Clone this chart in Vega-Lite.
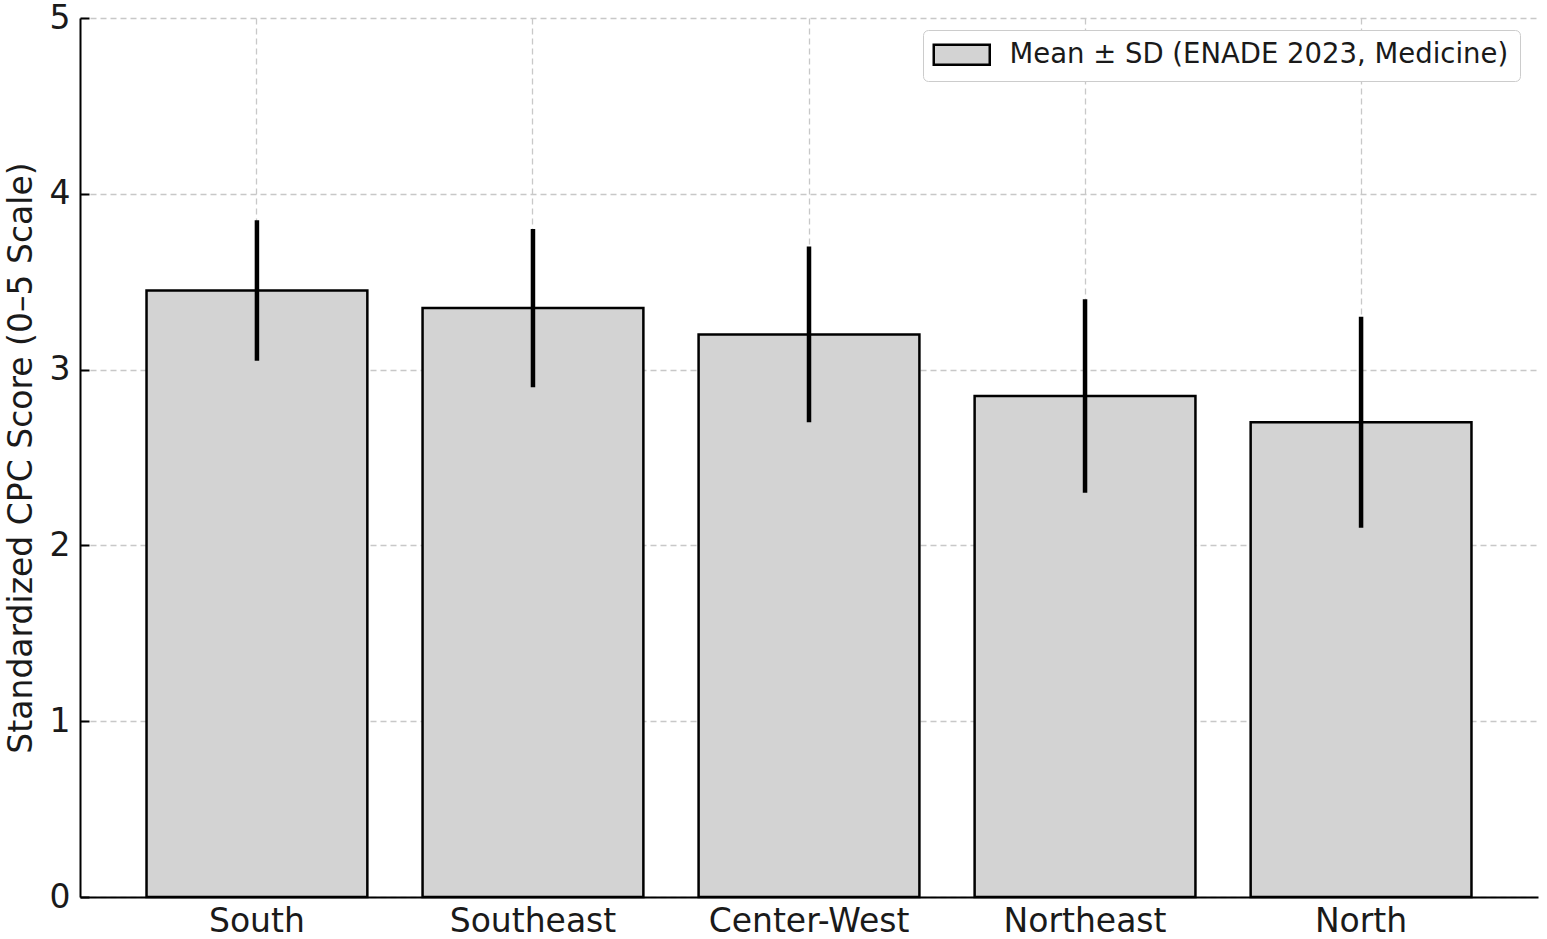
{
  "$schema": "https://vega.github.io/schema/vega-lite/v6.json",
  "width": 1458,
  "height": 879,
  "autosize": {"type": "none"},
  "padding": {"left": 80, "top": 18, "right": 9, "bottom": 42},
  "background": "white",
  "config": {
    "view": {"stroke": null},
    "font": "DejaVu Sans",
    "axis": {
      "labelFont": "DejaVu Sans",
      "titleFont": "DejaVu Sans",
      "labelFontSize": 33,
      "titleFontSize": 33,
      "titleFontWeight": "normal",
      "labelColor": "#1a1a1a",
      "titleColor": "#1a1a1a",
      "domainColor": "#000000",
      "domainWidth": 2,
      "tickColor": "#000000",
      "tickWidth": 2,
      "gridColor": "#c8c8c8",
      "gridDash": [6, 4],
      "gridWidth": 1.3,
      "zindex": 1
    }
  },
  "data": {
    "values": [
      {"region": "South", "mean": 3.45, "low": 3.05, "high": 3.85, "series": "Mean ± SD (ENADE 2023, Medicine)"},
      {"region": "Southeast", "mean": 3.35, "low": 2.9, "high": 3.8, "series": "Mean ± SD (ENADE 2023, Medicine)"},
      {"region": "Center-West", "mean": 3.2, "low": 2.7, "high": 3.7, "series": "Mean ± SD (ENADE 2023, Medicine)"},
      {"region": "Northeast", "mean": 2.85, "low": 2.3, "high": 3.4, "series": "Mean ± SD (ENADE 2023, Medicine)"},
      {"region": "North", "mean": 2.7, "low": 2.1, "high": 3.3, "series": "Mean ± SD (ENADE 2023, Medicine)"}
    ]
  },
  "encoding": {
    "x": {
      "field": "region",
      "type": "nominal",
      "sort": null,
      "scale": {"paddingInner": 0.2, "paddingOuter": 0.241},
      "axis": {
        "title": null,
        "labelAngle": 0,
        "labelLimit": 400,
        "grid": true,
        "bandPosition": 0.5,
        "tickSize": -9,
        "labelPadding": 17,
        "labelBaseline": "top"
      }
    }
  },
  "layer": [
    {
      "mark": {"type": "bar", "stroke": "#000000", "strokeWidth": 2.5},
      "encoding": {
        "y": {
          "field": "mean",
          "type": "quantitative",
          "scale": {"domain": [0, 5], "nice": false},
          "axis": {
            "title": "Standardized CPC Score (0–5 Scale)",
            "values": [0, 1, 2, 3, 4, 5],
            "format": "d",
            "grid": true,
            "tickSize": -9,
            "labelPadding": 19,
            "titlePadding": 11
          }
        },
        "fill": {
          "field": "series",
          "type": "nominal",
          "scale": {"range": ["#d3d3d3"]},
          "legend": {
            "title": null,
            "orient": "none",
            "legendX": 843,
            "legendY": 12,
            "labelFont": "DejaVu Sans",
            "labelFontSize": 27.5,
            "labelLimit": 800,
            "labelColor": "#1a1a1a",
            "symbolType": "M-2.8,-1H2.8V1H-2.8Z",
            "symbolSize": 400,
            "symbolOffset": 14,
            "labelOffset": 34,
            "symbolStrokeColor": "#000000",
            "symbolStrokeWidth": 2.5,
            "symbolFillColor": "#d3d3d3",
            "padding": 11,
            "strokeColor": "#cccccc",
            "fillColor": "white",
            "cornerRadius": 5
          }
        }
      }
    },
    {
      "mark": {"type": "rule", "color": "#000000", "strokeWidth": 4.5},
      "encoding": {
        "y": {"field": "low", "type": "quantitative"},
        "y2": {"field": "high"}
      }
    }
  ]
}
